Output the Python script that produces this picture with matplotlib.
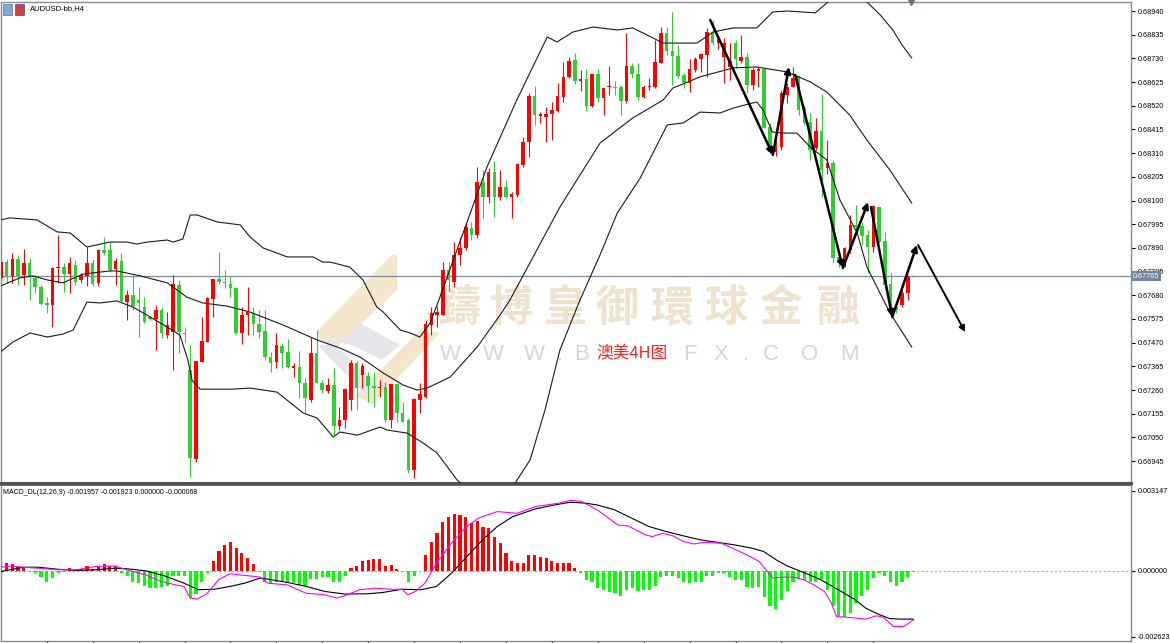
import numpy as np
import matplotlib
matplotlib.use("Agg")
import matplotlib.pyplot as plt
import matplotlib.transforms as mtransforms
from matplotlib.patches import Polygon, Rectangle
from matplotlib.ticker import FormatStrFormatter

plt.rcParams['font.family'] = ['Liberation Sans', 'Noto Sans CJK SC', 'DejaVu Sans']

# ---- AUDUSD H4 candles ----
opens = [0.67757, 0.67827, 0.67766, 0.67841, 0.67770, 0.67823, 0.67757, 0.67717, 0.67646, 0.67637,
         0.67801, 0.67805, 0.67774, 0.67814, 0.67748, 0.67766, 0.67823, 0.67735, 0.67881, 0.67881,
         0.67796, 0.67832, 0.67650, 0.67681, 0.67659, 0.67628, 0.67584, 0.67575, 0.67615, 0.67504,
         0.67517, 0.67726, 0.67513, 0.67349, 0.66954, 0.67384, 0.67473, 0.67663, 0.67752, 0.67739,
         0.67730, 0.67712, 0.67513, 0.67593, 0.67602, 0.67553, 0.67522, 0.67406, 0.67384, 0.67455,
         0.67428, 0.67358, 0.67362, 0.67291, 0.67216, 0.67424, 0.67291, 0.67256, 0.67282, 0.67100,
         0.67127, 0.67216, 0.67380, 0.67327, 0.67322, 0.67278, 0.67269, 0.67273, 0.67127, 0.67287,
         0.67158, 0.67127, 0.66905, 0.67216, 0.67229, 0.67548, 0.67593, 0.67593, 0.67792, 0.67739,
         0.67859, 0.67890, 0.67979, 0.67947, 0.68182, 0.68116, 0.68227, 0.68116, 0.68160, 0.68116,
         0.68125, 0.68258, 0.68359, 0.68563, 0.68474, 0.68470, 0.68483, 0.68497, 0.68559, 0.68648,
         0.68723, 0.68630, 0.68639, 0.68519, 0.68661, 0.68555, 0.68603, 0.68603, 0.68603, 0.68541,
         0.68696, 0.68661, 0.68559, 0.68603, 0.68603, 0.68710, 0.68843, 0.68763, 0.68741, 0.68657,
         0.68621, 0.68679, 0.68727, 0.68745, 0.68847, 0.68798, 0.68736, 0.68692, 0.68798, 0.68719,
         0.68736, 0.68612, 0.68674, 0.68683, 0.68426, 0.68315, 0.68337, 0.68568, 0.68603, 0.68648,
         0.68510, 0.68448, 0.68333, 0.68408, 0.68244, 0.68266, 0.67850, 0.67823, 0.67881, 0.67992,
         0.67987, 0.67947, 0.67894, 0.68071, 0.67921, 0.67730, 0.67628, 0.67637, 0.67690, 0.67766]
closes = [0.67827, 0.67761, 0.67841, 0.67766, 0.67823, 0.67766, 0.67717, 0.67641, 0.67637, 0.67801,
          0.67805, 0.67774, 0.67823, 0.67739, 0.67770, 0.67823, 0.67730, 0.67881, 0.67868, 0.67792,
          0.67832, 0.67655, 0.67681, 0.67632, 0.67646, 0.67562, 0.67575, 0.67615, 0.67513, 0.67548,
          0.67730, 0.67517, 0.67508, 0.66959, 0.67389, 0.67477, 0.67668, 0.67752, 0.67739, 0.67735,
          0.67712, 0.67513, 0.67593, 0.67606, 0.67553, 0.67517, 0.67406, 0.67380, 0.67460, 0.67424,
          0.67362, 0.67367, 0.67291, 0.67225, 0.67424, 0.67291, 0.67260, 0.67282, 0.67100, 0.67127,
          0.67265, 0.67380, 0.67269, 0.67367, 0.67278, 0.67269, 0.67273, 0.67127, 0.67287, 0.67158,
          0.67118, 0.66905, 0.67220, 0.67242, 0.67553, 0.67602, 0.67606, 0.67792, 0.67748, 0.67859,
          0.67890, 0.67983, 0.67947, 0.68182, 0.68116, 0.68227, 0.68116, 0.68160, 0.68116, 0.68129,
          0.68262, 0.68359, 0.68563, 0.68479, 0.68483, 0.68483, 0.68501, 0.68563, 0.68648, 0.68719,
          0.68630, 0.68639, 0.68519, 0.68661, 0.68555, 0.68599, 0.68608, 0.68599, 0.68541, 0.68696,
          0.68661, 0.68559, 0.68603, 0.68608, 0.68714, 0.68843, 0.68763, 0.68741, 0.68652, 0.68621,
          0.68683, 0.68727, 0.68750, 0.68847, 0.68798, 0.68816, 0.68798, 0.68719, 0.68727, 0.68736,
          0.68612, 0.68679, 0.68683, 0.68421, 0.68315, 0.68342, 0.68577, 0.68603, 0.68643, 0.68501,
          0.68444, 0.68324, 0.68408, 0.68235, 0.68266, 0.67846, 0.67823, 0.67890, 0.67992, 0.67983,
          0.67943, 0.67894, 0.68076, 0.67916, 0.67726, 0.67628, 0.67615, 0.67690, 0.67766, 0.67764]
highs = [0.67846, 0.67841, 0.67868, 0.67859, 0.67885, 0.67846, 0.67770, 0.67726, 0.67672, 0.67805,
         0.67947, 0.67823, 0.67850, 0.67836, 0.67779, 0.67894, 0.67841, 0.67885, 0.67939, 0.67916,
         0.67846, 0.67868, 0.67703, 0.67770, 0.67717, 0.67672, 0.67588, 0.67637, 0.67628, 0.67606,
         0.67770, 0.67748, 0.67539, 0.67460, 0.67389, 0.67584, 0.67672, 0.67752, 0.67872, 0.67792,
         0.67761, 0.67717, 0.67628, 0.67717, 0.67628, 0.67615, 0.67615, 0.67428, 0.67513, 0.67469,
         0.67486, 0.67380, 0.67433, 0.67313, 0.67495, 0.67526, 0.67304, 0.67313, 0.67358, 0.67185,
         0.67269, 0.67393, 0.67389, 0.67380, 0.67340, 0.67340, 0.67304, 0.67296, 0.67287, 0.67291,
         0.67207, 0.67136, 0.67225, 0.67291, 0.67570, 0.67628, 0.67632, 0.67827, 0.67827, 0.67916,
         0.67939, 0.68005, 0.68005, 0.68249, 0.68235, 0.68244, 0.68275, 0.68235, 0.68191, 0.68138,
         0.68266, 0.68382, 0.68577, 0.68608, 0.68492, 0.68514, 0.68537, 0.68621, 0.68714, 0.68736,
         0.68754, 0.68679, 0.68683, 0.68661, 0.68683, 0.68599, 0.68696, 0.68630, 0.68612, 0.68843,
         0.68710, 0.68710, 0.68612, 0.68643, 0.68812, 0.68869, 0.68869, 0.68936, 0.68790, 0.68666,
         0.68727, 0.68736, 0.68754, 0.68865, 0.68900, 0.68825, 0.68821, 0.68798, 0.68812, 0.68834,
         0.68754, 0.68688, 0.68692, 0.68688, 0.68444, 0.68368, 0.68590, 0.68621, 0.68692, 0.68657,
         0.68524, 0.68488, 0.68466, 0.68572, 0.68368, 0.68280, 0.67850, 0.67894, 0.68036, 0.68081,
         0.68005, 0.67969, 0.68081, 0.68076, 0.67961, 0.67779, 0.67637, 0.67703, 0.67770, 0.67770]
lows = [0.67739, 0.67735, 0.67735, 0.67726, 0.67726, 0.67659, 0.67690, 0.67637, 0.67602, 0.67539,
        0.67735, 0.67694, 0.67690, 0.67726, 0.67735, 0.67721, 0.67721, 0.67721, 0.67859, 0.67783,
        0.67726, 0.67650, 0.67570, 0.67615, 0.67495, 0.67557, 0.67570, 0.67437, 0.67491, 0.67491,
        0.67349, 0.67424, 0.67473, 0.66874, 0.66941, 0.67384, 0.67473, 0.67584, 0.67730, 0.67712,
        0.67672, 0.67508, 0.67464, 0.67504, 0.67504, 0.67491, 0.67393, 0.67340, 0.67358, 0.67358,
        0.67358, 0.67318, 0.67225, 0.67158, 0.67207, 0.67291, 0.67247, 0.67247, 0.67060, 0.67083,
        0.67091, 0.67171, 0.67171, 0.67269, 0.67207, 0.67185, 0.67229, 0.67118, 0.67091, 0.67118,
        0.67118, 0.66892, 0.66870, 0.67158, 0.67225, 0.67504, 0.67539, 0.67593, 0.67694, 0.67717,
        0.67814, 0.67881, 0.67925, 0.67934, 0.68023, 0.68089, 0.68027, 0.68102, 0.68111, 0.68023,
        0.68116, 0.68249, 0.68293, 0.68435, 0.68444, 0.68359, 0.68368, 0.68492, 0.68537, 0.68643,
        0.68617, 0.68585, 0.68497, 0.68515, 0.68537, 0.68479, 0.68568, 0.68568, 0.68479, 0.68532,
        0.68643, 0.68546, 0.68555, 0.68590, 0.68599, 0.68710, 0.68745, 0.68612, 0.68643, 0.68599,
        0.68581, 0.68670, 0.68670, 0.68648, 0.68790, 0.68772, 0.68621, 0.68634, 0.68688, 0.68710,
        0.68577, 0.68590, 0.68603, 0.68421, 0.68311, 0.68298, 0.68324, 0.68532, 0.68603, 0.68479,
        0.68435, 0.68280, 0.68324, 0.68116, 0.68218, 0.67823, 0.67805, 0.67805, 0.67868, 0.67956,
        0.67903, 0.67779, 0.67872, 0.67912, 0.67703, 0.67593, 0.67602, 0.67628, 0.67659, 0.67761]
last_price = 0.67765

# ---- Bollinger bands (bar index, price) ----
upper_i = [-0.1, 1.6, 6.3, 9.8, 12.1, 15.0, 19.0, 22.0, 23.7, 25.5, 29.0, 30.0, 31.7, 33.0, 34.2,
           37.7, 41.7, 43.4, 45.7, 49.9, 54.4, 56.1, 57.4, 60.8, 63.1, 65.5, 66.6, 69.6, 71.3, 73.0,
           74.8, 76.5, 84.7, 89.9, 95.2, 96.9, 99.7, 103.2, 107.4, 110.1, 115.4, 121.3, 124.1, 127.6,
           131.7, 134.5, 137.0, 141.9, 144.1, 146.2, 148.8, 150.9, 153.2, 155.4, 157.0, 158.7]
upper_v = [0.68014, 0.68023, 0.68014, 0.67961, 0.67956, 0.67894, 0.67916, 0.67916, 0.67907, 0.67916,
           0.67925, 0.67916, 0.67929, 0.68036, 0.68036, 0.68005, 0.67992, 0.67939, 0.67890, 0.67850,
           0.67850, 0.67827, 0.67827, 0.67805, 0.67748, 0.67628, 0.67606, 0.67526, 0.67513, 0.67495,
           0.67557, 0.67672, 0.68249, 0.68546, 0.68825, 0.68803, 0.68847, 0.68869, 0.68856, 0.68865,
           0.68798, 0.68798, 0.68847, 0.68865, 0.68865, 0.68936, 0.68940, 0.68932, 0.68980, 0.69024,
           0.69024, 0.68980, 0.68923, 0.68856, 0.68790, 0.68732]
mid_i = [-0.1, 3.3, 5.6, 8.1, 10.8, 14.3, 19.0, 20.2, 24.3, 29.0, 32.4, 35.2, 39.4, 43.4, 49.2,
         55.1, 59.1, 62.6, 66.6, 70.1, 72.5, 74.3, 78.3, 83.0, 87.0, 88.7, 97.4, 104.4, 110.1, 115.4,
         117.1, 118.9, 121.8, 127.6, 131.7, 137.0, 141.0, 143.9, 147.9, 150.9, 154.9, 158.7]
mid_v = [0.67721, 0.67757, 0.67766, 0.67748, 0.67735, 0.67774, 0.67788, 0.67788, 0.67766, 0.67735,
         0.67672, 0.67646, 0.67632, 0.67606, 0.67548, 0.67482, 0.67446, 0.67406, 0.67336, 0.67282,
         0.67260, 0.67269, 0.67318, 0.67451, 0.67593, 0.67659, 0.68071, 0.68355, 0.68466, 0.68546,
         0.68599, 0.68617, 0.68648, 0.68688, 0.68692, 0.68670, 0.68626, 0.68581, 0.68479, 0.68368,
         0.68235, 0.68089]
lower_i = [-0.1, 2.1, 5.1, 8.1, 10.8, 12.6, 15.0, 17.3, 20.2, 23.0, 24.8, 29.0, 31.2, 32.6, 33.3,
           34.7, 40.5, 43.4, 48.1, 52.7, 55.1, 57.9, 59.1, 62.1, 66.1, 67.3, 70.8, 73.6, 76.0, 79.5,
           83.5, 87.0, 89.6, 92.2, 94.8, 97.4, 100.9, 104.4, 107.4, 111.4, 116.1, 118.9, 121.8, 125.3,
           127.6, 131.7, 132.8, 134.4, 136.3, 138.7, 141.0, 143.9, 146.2, 149.2, 150.9, 154.9, 158.7]
lower_v = [0.67428, 0.67473, 0.67513, 0.67495, 0.67508, 0.67526, 0.67650, 0.67646, 0.67655, 0.67628,
           0.67602, 0.67539, 0.67504, 0.67393, 0.67304, 0.67264, 0.67264, 0.67269, 0.67251, 0.67158,
           0.67136, 0.67052, 0.67074, 0.67060, 0.67096, 0.67083, 0.67069, 0.67025, 0.66981, 0.66861,
           0.66773, 0.66773, 0.66848, 0.66950, 0.67171, 0.67437, 0.67659, 0.67859, 0.68045, 0.68200,
           0.68435, 0.68444, 0.68492, 0.68488, 0.68510, 0.68537, 0.68501, 0.68404, 0.68399, 0.68399,
           0.68337, 0.68280, 0.68102, 0.67956, 0.67805, 0.67602, 0.67451]

# ---- hand drawn arrows (bar index, price) ----
arrow_from_i = [123.6, 134.5, 138.4, 146.7, 151.6, 155.3, 159.8]
arrow_from_p = [0.68900, 0.68302, 0.68657, 0.67801, 0.68071, 0.67584, 0.67903]
arrow_to_i = [134.5, 137.3, 146.7, 151.1, 155.3, 159.6, 168.0]
arrow_to_p = [0.68302, 0.68692, 0.67801, 0.68093, 0.67584, 0.67903, 0.67517]

# ---- MACD_DL(12,26,9) ----
hist = [0.000461, 0.000290, 0.000263, 0.000158, 0.000092, -0.000040, -0.000105, -0.000263, -0.000435, -0.000277,
        -0.000105, -0.000040, 0.000092, 0.000053, 0.000066, 0.000184, 0.000079, 0.000184, 0.000263, 0.000184,
        0.000184, -0.000079, -0.000237, -0.000435, -0.000500, -0.000632, -0.000698, -0.000698, -0.000658, -0.000593,
        -0.000237, -0.000237, -0.000237, -0.001093, -0.000922, -0.000435, -0.000105, 0.000395, 0.000777, 0.001014,
        0.001146, 0.000882, 0.000685, 0.000487, 0.000263, -0.000040, -0.000435, -0.000500, -0.000435, -0.000435,
        -0.000474, -0.000500, -0.000566, -0.000632, -0.000342, -0.000342, -0.000263, -0.000263, -0.000435, -0.000474,
        -0.000237, 0.000092, 0.000184, 0.000395, 0.000421, 0.000448, 0.000448, 0.000184, 0.000224, 0.000053,
        -0.000040, -0.000474, -0.000211, -0.000013, 0.000619, 0.001146, 0.001475, 0.001935, 0.002107, 0.002238,
        0.002199, 0.002133, 0.001870, 0.001962, 0.001738, 0.001672, 0.001343, 0.001080, 0.000711, 0.000395,
        0.000290, 0.000316, 0.000593, 0.000619, 0.000553, 0.000487, 0.000356, 0.000290, 0.000290, 0.000316,
        0.000092, -0.000079, -0.000395, -0.000435, -0.000698, -0.000790, -0.000869, -0.000895, -0.001001, -0.000790,
        -0.000698, -0.000803, -0.000790, -0.000764, -0.000606, -0.000263, -0.000211, -0.000211, -0.000303, -0.000474,
        -0.000500, -0.000474, -0.000435, -0.000237, -0.000211, -0.000079, -0.000079, -0.000263, -0.000369, -0.000395,
        -0.000658, -0.000698, -0.000658, -0.001053, -0.001396, -0.001527, -0.001185, -0.000829, -0.000474, -0.000342,
        -0.000369, -0.000474, -0.000435, -0.000342, -0.000764, -0.001422, -0.001817, -0.001857, -0.001685, -0.001290,
        -0.001027, -0.000790, -0.000303, -0.000079, -0.000211, -0.000435, -0.000606, -0.000474, -0.000263, -0.000068]
sig_i = [0, 3.9, 6.5, 9.9, 13.2, 16.5, 19.9, 21.9, 25.2, 28.5, 31.9, 34.5, 37.2, 39.9, 42.5, 45.2,
         46.5, 49.9, 53.2, 56.5, 59.9, 63.9, 66.5, 69.9, 73.2, 75.9, 78.5, 81.2, 83.9, 86.5, 89.2,
         93.2, 96.5, 99.2, 101.9, 103.9, 106.9, 109.9, 112.9, 115.9, 118.9, 121.9, 124.9, 127.9,
         130.9, 132.9, 135.1, 137.0, 139.9, 142.9, 145.9, 148.9, 150.7, 153.1, 154.9, 156.7, 159]
sig_v = [-0.00004, 0.00013, 0.00013, 0.00005, 0.0, 0.00003, 0.00009, 0.00007, -0.00001, -0.00021,
         -0.0005, -0.00076, -0.00074, -0.00063, -0.0005, -0.0003, -0.00034, -0.00047, -0.00063, -0.00083,
         -0.00093, -0.00092, -0.00087, -0.00074, -0.00076, -0.00063, -0.00011, 0.00055, 0.00121, 0.00174,
         0.00213, 0.00244, 0.00259, 0.0027, 0.00266, 0.00259, 0.0024, 0.00207, 0.00174, 0.00154,
         0.00137, 0.00121, 0.00111, 0.00101, 0.00088, 0.00075, 0.00042, 0.00018, -0.00008, -0.00037,
         -0.00076, -0.00116, -0.00149, -0.00175, -0.0019, -0.00192, -0.001923]
macd_i = [0, 1.9, 3.9, 6.5, 9.9, 13.2, 16.5, 19.9, 21.9, 25.2, 27.9, 30.5, 31.9, 33.0, 34.2, 35.9,
          37.9, 39.9, 43.2, 45.2, 46.5, 49.9, 53.2, 56.5, 58.5, 59.9, 62.5, 65.2, 67.9, 69.9, 70.9,
          72.2, 73.9, 75.9, 78.5, 81.2, 83.2, 86.5, 89.9, 93.2, 97.2, 99.2, 101.2, 103.9, 107.5, 109.3,
          112.3, 113.5, 115.3, 117.1, 118.9, 120.7, 122.5, 125.5, 127.9, 130.3, 132.1, 133.3, 134.5,
          136.3, 138.1, 139.9, 141.7, 143.5, 144.7, 145.6, 147.1, 150.7, 152.5, 153.7, 155.5, 157.3, 159]
macd_v = [0.00013, 0.00018, 0.00013, 0.00009, 0.00003, 0.00003, 0.00016, 0.00018, 0.00003, -0.00017,
          -0.00043, -0.00057, -0.00063, -0.00109, -0.00113, -0.00092, -0.00037, -0.00013, -0.00021, -0.00026,
          -0.0005, -0.00057, -0.0009, -0.00096, -0.00109, -0.001, -0.00076, -0.0007, -0.00074, -0.00074,
          -0.00096, -0.00083, -0.0005, 0.00029, 0.00108, 0.00174, 0.00207, 0.00233, 0.00226, 0.00253,
          0.00266, 0.00277, 0.00273, 0.0024, 0.0018, 0.00176, 0.00141, 0.00134, 0.00147, 0.00137,
          0.00115, 0.00105, 0.00111, 0.00108, 0.00084, 0.00058, 0.00036, 0.00003, -0.0003, -0.00026,
          -0.00026, -0.00037, -0.00057, -0.00083, -0.00129, -0.00182, -0.00184, -0.00192, -0.00179, -0.00184,
          -0.00221, -0.00221, -0.001957]
macd_header = "MACD_DL(12,26,9) -0.001957 -0.001923 0.000000 -0.000068"

price_ticks = [0.68940, 0.68835, 0.68730, 0.68625, 0.68520, 0.68415, 0.68310, 0.68205, 0.68100, 0.67995,
               0.67890, 0.67785, 0.67680, 0.67575, 0.67470, 0.67365, 0.67260, 0.67155, 0.67050, 0.66945]
macd_ticks = [0.003147, 0.0, -0.002623]
time_ticks = list(range(8, 153, 8))

W, H = 1170, 643


def fx(px):
    return px / W


def fy(py):
    return 1 - py / H


fig = plt.figure(figsize=(W / 100, H / 100), dpi=100)
fig.patch.set_facecolor('white')
ax = fig.add_axes([fx(1), fy(483), fx(1131) - fx(1), fy(2) - fy(483)])
ax2 = fig.add_axes([fx(1), fy(641), fx(1131) - fx(1), fy(485) - fy(641)], sharex=ax)

ax.set_xlim(0.03, 196.9)
ax.set_ylim(0.66848, 0.68980)
ax2.set_ylim(-0.002786, 0.003379)

# watermark, behind everything
wm_chars = "鑄博皇御環球金融"
wm_x = [459, 511, 565, 617, 672, 726, 781, 838]
for ch, px in zip(wm_chars, wm_x):
    ax.text(fx(px), fy(308), ch, transform=fig.transFigure, ha='center', va='center',
            fontsize=31, fontweight='bold', color='#efe3d0', family=['Noto Sans CJK TC'], zorder=0.2)
www = "WWW.BFX.COM"
www_x = [450, 493, 534, 560, 582, 690, 721, 746, 771, 810, 849]
for ch, px in zip(www, www_x):
    ax.text(fx(px), fy(354), ch, transform=fig.transFigure, ha='center', va='center',
            fontsize=16, color='#d6d6d6', zorder=0.2)
logo_gold = [[(393, 254), (397, 256), (397, 290), (334, 350), (318, 338), (318, 330)],
             [(420, 330), (440, 333), (372, 405), (356, 395)]]
logo_grey = [[(318, 338), (334, 350), (360, 323), (378, 333), (400, 345), (382, 360), (352, 345)],
             [(318, 345), (365, 395), (380, 385), (334, 345)]]
for pts in logo_gold:
    ax.add_patch(Polygon([(fx(a), fy(b)) for a, b in pts], closed=True, transform=fig.transFigure,
                         fc='#f3e6cc', ec='none', zorder=0.1))
for pts in logo_grey:
    ax.add_patch(Polygon([(fx(a), fy(b)) for a, b in pts], closed=True, transform=fig.transFigure,
                         fc='#e6e6ea', ec='none', zorder=0.1))

# current price line
ax.axhline(last_price, color='#7d8c9c', lw=0.9, zorder=1)

# candles: red = up, green = down
x = np.arange(len(opens))
o = np.array(opens)
c = np.array(closes)
col = np.where(c >= o, '#ff0000', '#32cd32')
ax.vlines(x, np.array(lows), np.array(highs), colors=col, lw=0.8, zorder=2)
body_lo = np.minimum(o, c)
body_h = np.maximum(np.abs(c - o), 0.00003)
ax.bar(x, body_h, bottom=body_lo, width=0.62, color=col, lw=0, zorder=3)

# Bollinger bands
for bi, bv in [(upper_i, upper_v), (mid_i, mid_v), (lower_i, lower_v)]:
    ax.plot(bi, bv, color='#1a1a1a', lw=0.8, zorder=4)

# drawn arrows
for k in range(len(arrow_from_i)):
    ax.annotate('', xy=(arrow_to_i[k], arrow_to_p[k]), xytext=(arrow_from_i[k], arrow_from_p[k]),
                arrowprops=dict(arrowstyle='-|>', color='black', lw=1.8 if k < 6 else 1.4,
                                mutation_scale=9, shrinkA=0, shrinkB=0), zorder=6)

ax.text(fx(596), fy(354), "澳美4H图", transform=fig.transFigure, ha='left', va='center',
        fontsize=12, color='#ff2222', family=['Noto Sans CJK SC'], zorder=7)

# chart shift marker
ax.plot([x[-1] - 0.4], [0.68980], marker='v', ms=4, color='#5f7088', clip_on=False, zorder=8)

# title + icons
ax.text(fx(30), fy(9), "AUDUSD-bb,H4", transform=fig.transFigure, fontsize=5.5, va='center')
fig.patches.append(Rectangle((fx(3), fy(15)), 9 / W, 11 / H, transform=fig.transFigure,
                             fc='#8aa8d8', ec='#5070a0', lw=0.5))
fig.patches.append(Rectangle((fx(15), fy(15)), 9 / W, 11 / H, transform=fig.transFigure,
                             fc='#d84040', ec='#3050b0', lw=0.5))

# price axis
ax.yaxis.tick_right()
ax.set_yticks(price_ticks)
ax.yaxis.set_major_formatter(FormatStrFormatter('%.5f'))
ax.tick_params(axis='y', length=3, width=0.8, pad=1.5, labelsize=5.2)
ax.tick_params(axis='x', bottom=False, labelbottom=False)
ax.text(1.0018, last_price, f"{last_price:.5f}",
        transform=mtransforms.blended_transform_factory(ax.transAxes, ax.transData),
        fontsize=5.2, color='white', va='center', ha='left', clip_on=False, zorder=10,
        bbox=dict(boxstyle='square,pad=0.18', fc='#71869d', ec='none'))

# MACD pane
hcol = np.where(np.array(hist) >= 0, '#ff0000', '#00ff00')
ax2.bar(x, hist, width=0.55, color=hcol, lw=0, zorder=2)
ax2.axhline(0, color='#a4acb8', lw=0.8, ls=(0, (2, 2)), zorder=1)
ax2.plot(sig_i, sig_v, color='black', lw=0.8, zorder=3)
ax2.plot(macd_i, macd_v, color='#ff00ff', lw=0.8, zorder=3)
ax2.text(0.002, 0.975, macd_header, transform=ax2.transAxes, fontsize=5, va='top')
ax2.yaxis.tick_right()
ax2.set_yticks(macd_ticks)
ax2.yaxis.set_major_formatter(FormatStrFormatter('%.6f'))
ax2.tick_params(axis='y', length=3, width=0.8, pad=1.5, labelsize=5.2)
ax2.set_xticks(time_ticks)
ax2.tick_params(axis='x', length=3, width=0.8, labelbottom=False)

for a in (ax, ax2):
    for s in a.spines.values():
        s.set_color('#8a8a8a')
        s.set_linewidth(1.0)
ax.spines['bottom'].set_color('#505050')
ax.spines['bottom'].set_linewidth(2.2)
ax2.spines['top'].set_color('#505050')
ax2.spines['top'].set_linewidth(1.2)

fig.savefig("out.png", dpi=100, facecolor='white')
